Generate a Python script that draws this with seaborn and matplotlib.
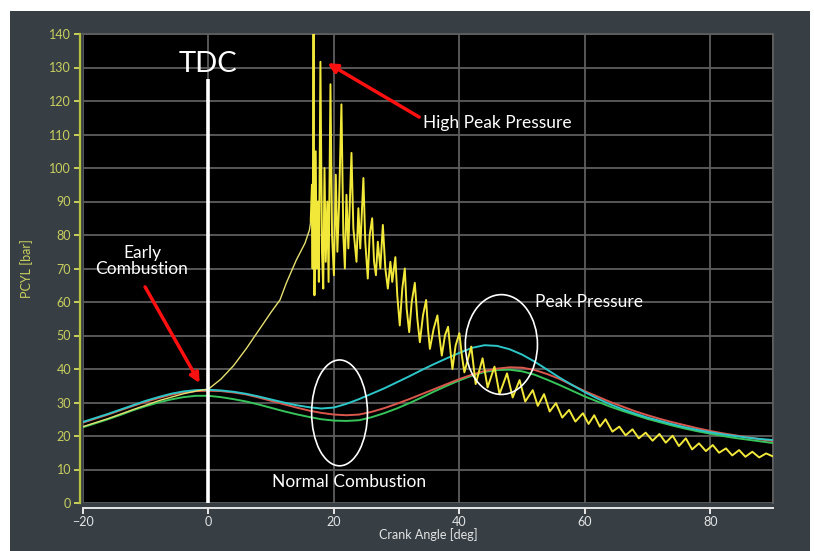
import matplotlib
matplotlib.use("Agg")
import matplotlib.pyplot as plt
from matplotlib.patches import Ellipse, Rectangle
import seaborn as sns
import pandas as pd

# ---------------- data ----------------
angle_smooth = [-20, -18, -16, -14, -12, -10, -8, -6, -4, -2, 0, 2, 4, 6, 8, 10, 12, 14, 16, 18,
                20, 22, 24, 26, 28, 30, 32, 34, 36, 38, 40, 42, 44, 46, 48, 50, 52, 54, 56, 58,
                60, 62, 64, 66, 68, 70, 72, 74, 76, 78, 80, 82, 84, 86, 88, 90]
p_cyan = [24.2, 25.4, 26.6, 27.9, 29.2, 30.5, 31.6, 32.6, 33.3, 33.7, 33.8, 33.6, 33.2, 32.6, 31.8,
          30.9, 30.0, 29.2, 28.6, 28.2, 28.5, 29.6, 31.0, 32.6, 34.2, 36.0, 37.8, 39.7, 41.5, 43.2,
          44.8, 46.3, 47.1, 46.9, 45.9, 44.3, 42.2, 39.8, 37.4, 35.2, 33.1, 31.2, 29.5, 28.0, 26.7,
          25.5, 24.5, 23.5, 22.6, 21.8, 21.1, 20.5, 20.0, 19.5, 19.1, 18.8]
p_red = [24.0, 25.2, 26.4, 27.7, 29.0, 30.2, 31.3, 32.3, 33.0, 33.4, 33.5, 33.4, 33.0, 32.4, 31.5,
         30.5, 29.5, 28.5, 27.6, 26.9, 26.4, 26.2, 26.4, 27.2, 28.3, 29.6, 31.0, 32.5, 34.0, 35.5,
         37.0, 38.3, 39.4, 40.1, 40.5, 40.4, 39.7, 38.5, 37.0, 35.2, 33.4, 31.8, 30.2, 28.8, 27.4,
         26.2, 25.1, 24.1, 23.2, 22.3, 21.5, 20.8, 20.2, 19.6, 19.0, 18.5]
p_green = [22.6, 23.8, 25.0, 26.3, 27.7, 28.9, 30.0, 30.9, 31.6, 32.0, 32.0, 31.6, 31.0, 30.3, 29.4,
           28.4, 27.4, 26.5, 25.7, 25.0, 24.6, 24.5, 24.7, 25.6, 26.8, 28.2, 29.8, 31.5, 33.3, 35.0,
           36.6, 38.0, 39.1, 39.7, 39.8, 39.3, 38.3, 36.8, 35.2, 33.5, 31.8, 30.3, 28.8, 27.5, 26.3,
           25.1, 24.1, 23.1, 22.2, 21.4, 20.7, 20.0, 19.4, 18.9, 18.4, 17.9]

angle_rise = [-20, -16, -12, -8, -4, -2, 0, 2, 4, 6, 8, 10, 11.4, 12.4, 14.0, 15.4, 16.1, 16.3]
p_rise = [22.8, 25.2, 27.9, 30.5, 32.6, 33.4, 34.0, 37.0, 41.0, 46.0, 51.5, 57.0, 60.6, 65.6,
          72.5, 77.6, 81.5, 84.0]

angle_knock = [16.3, 16.5, 16.6, 16.75, 16.9, 17.1, 17.25, 17.45, 17.6, 17.85, 18.1, 18.3, 18.5,
               18.7, 18.95, 19.15, 19.45, 19.7, 20.0, 20.3, 20.55, 20.8, 21.2, 21.5, 21.75, 22.0,
               22.3, 22.8, 23.1, 23.6, 23.9, 24.2, 24.7, 25.0, 25.4, 25.7, 26.1, 26.4, 26.7, 27.0,
               27.4, 27.8, 28.2, 28.6, 29.0, 29.3, 29.8, 30.1, 30.5, 30.9, 31.3, 31.6, 32.0, 32.4,
               32.9, 33.3, 33.7, 34.2, 34.7, 35.0, 35.3, 35.9, 36.5, 36.8, 37.2, 37.7, 38.2, 38.6,
               38.9, 39.4, 40.0, 40.4, 40.8, 41.9, 42.6, 43.7, 44.5, 45.6, 46.4, 47.6, 48.5, 49.6,
               50.5, 51.7, 52.5, 53.5, 54.4, 55.4, 56.4, 57.5, 58.5, 59.7, 60.6, 61.5, 62.4, 63.3,
               64.4, 65.5, 66.5, 67.6, 68.6, 69.7, 70.8, 71.9, 72.9, 74.0, 75.0, 76.1, 77.1, 78.2,
               79.3, 80.4, 81.4, 82.5, 83.5, 84.6, 85.6, 86.7, 87.8, 88.9, 90.0]
p_knock = [84.0, 95.0, 70.0, 140.0, 62.0, 105.0, 70.0, 90.0, 66.0, 131.7, 75.0, 64.0, 100.0,
           72.0, 90.0, 66.0, 125.0, 80.0, 68.0, 98.0, 75.0, 88.0, 119.0, 80.0, 70.0, 92.0,
           76.0, 104.5, 82.0, 72.0, 88.0, 76.0, 97.0, 78.0, 67.0, 80.0, 85.0, 72.0, 68.0, 78.0,
           70.0, 83.0, 70.0, 64.0, 72.0, 66.0, 73.4, 62.0, 53.0, 64.0, 70.0, 58.0, 51.0, 60.0,
           65.7, 55.0, 48.0, 56.0, 60.6, 52.0, 46.0, 52.0, 56.0, 50.0, 44.0, 50.0, 52.6, 45.0,
           40.0, 47.0, 50.7, 44.0, 39.0, 46.7, 35.5, 43.2, 34.5, 40.7, 32.5, 38.7, 31.5, 36.7,
           30.3, 33.7, 29.0, 32.5, 27.3, 29.8, 25.5, 27.8, 24.3, 26.8, 23.6, 26.2, 22.8, 25.0,
           21.3, 22.8, 20.2, 22.0, 19.3, 21.0, 18.6, 20.6, 18.0, 20.1, 17.0, 19.3, 16.0, 17.8,
           15.5, 17.3, 15.0, 16.3, 14.2, 15.8, 13.8, 15.3, 13.6, 14.8, 13.9]

x_ticks = [-20, 0, 20, 40, 60, 80]
y_ticks = [0, 10, 20, 30, 40, 50, 60, 70, 80, 90, 100, 110, 120, 130, 140]
tdc_angle, tdc_top = 0, 126.5

# ---------------- styling ----------------
sns.set_theme(style="dark")
plt.rcParams['font.family'] = ['Lato', 'DejaVu Sans']

W, H = 814, 551
fig = plt.figure(figsize=(W / 100, H / 100), dpi=100, facecolor="white")
fig.patches.append(Rectangle((10 / W, 0), 800 / W, 540 / H, transform=fig.transFigure,
                             facecolor="#373f45", edgecolor="none", zorder=-10))
ax = fig.add_axes([83 / W, 48 / H, 690 / W, 469 / H])
ax.set_facecolor("black")

grid_c = "#5e5e5e"
for yv in y_ticks:
    ax.axhline(yv, color=grid_c, lw=1.3, zorder=1)
for xv in x_ticks + [90]:
    ax.axvline(xv, color=grid_c, lw=1.3, zorder=1)

df_s = pd.DataFrame({"angle": angle_smooth, "cyan": p_cyan, "red": p_red, "green": p_green})
sns.lineplot(data=df_s, x="angle", y="green", ax=ax, color="#37c45a", lw=1.4, zorder=4)
sns.lineplot(data=df_s, x="angle", y="red", ax=ax, color="#d9574c", lw=1.4, zorder=5)
sns.lineplot(data=df_s, x="angle", y="cyan", ax=ax, color="#2cc6c8", lw=1.4, zorder=6)

df_r = pd.DataFrame({"angle": angle_rise, "p": p_rise})
sns.lineplot(data=df_r, x="angle", y="p", ax=ax, color="#e6e070", lw=1.0, zorder=7)
df_k = pd.DataFrame({"angle": angle_knock, "p": p_knock})
sns.lineplot(data=df_k, x="angle", y="p", ax=ax, color="#f2e83a", lw=1.4, zorder=7)

ax.vlines(tdc_angle, 0, tdc_top, color="white", lw=2.6, zorder=8)
ax.text(tdc_angle, 131, "TDC", color="white", fontsize=21, ha="center", va="center", zorder=9)

ax.add_patch(Ellipse((20.9, 26.9), 8.9, 31.6, fill=False, edgecolor="white", lw=1.2, zorder=9))
ax.add_patch(Ellipse((46.7, 47.3), 11.5, 29.8, fill=False, edgecolor="white", lw=1.2, zorder=9))

txt = dict(color="white", fontsize=12.5, zorder=10)
ax.text(22.4, 6.3, "Normal Combustion", ha="center", va="center", **txt)
ax.text(60.6, 60.0, "Peak Pressure", ha="center", va="center", **txt)
ax.text(34.2, 113.4, "High Peak Pressure", ha="left", va="center", **txt)
ax.text(-10.6, 72.3, "Early\nCombustion", ha="center", va="center", linespacing=1.0, **txt)

arrow = dict(arrowstyle="-|>", color="#ff1010", lw=2.5, mutation_scale=14, shrinkA=0, shrinkB=0)
ax.annotate("", xy=(19.0, 131.3), xytext=(33.6, 115.2), arrowprops=arrow, zorder=10)
ax.annotate("", xy=(-1.4, 35.8), xytext=(-10.1, 64.5), arrowprops=arrow, zorder=10)

ax.set_xlim(-20, 90)
ax.set_ylim(0, 140)
ax.set_xticks(x_ticks)
ax.set_yticks(y_ticks)
ax.grid(False)

ax.spines["left"].set_position(("outward", 2.5))
ax.spines["left"].set_color("#b8c040")
ax.spines["left"].set_linewidth(1.6)
ax.spines["bottom"].set_position(("outward", 3.5))
ax.spines["bottom"].set_color("#e8e8e8")
ax.spines["bottom"].set_linewidth(1.4)
for s in ["top", "right"]:
    ax.spines[s].set_visible(True)
    ax.spines[s].set_color(grid_c)
    ax.spines[s].set_linewidth(1.3)

ax.tick_params(axis="y", colors="#c9cf5e", labelsize=9, length=4, width=1.4, direction="out",
               left=True, pad=2)
ax.tick_params(axis="x", colors="#e8e8e8", labelsize=9, length=4, width=1.4, direction="out",
               bottom=True, pad=2)
for lab in ax.get_yticklabels():
    lab.set_color("#c9cf5e")
for lab in ax.get_xticklabels():
    lab.set_color("#e4e4e4")

ax.set_xlabel("Crank Angle [deg]", color="#e4e4e4", fontsize=9, labelpad=0)
ax.set_ylabel("PCYL [bar]", color="#c9cf5e", fontsize=9, labelpad=12)

fig.savefig("out.png", dpi=100, facecolor="white")
